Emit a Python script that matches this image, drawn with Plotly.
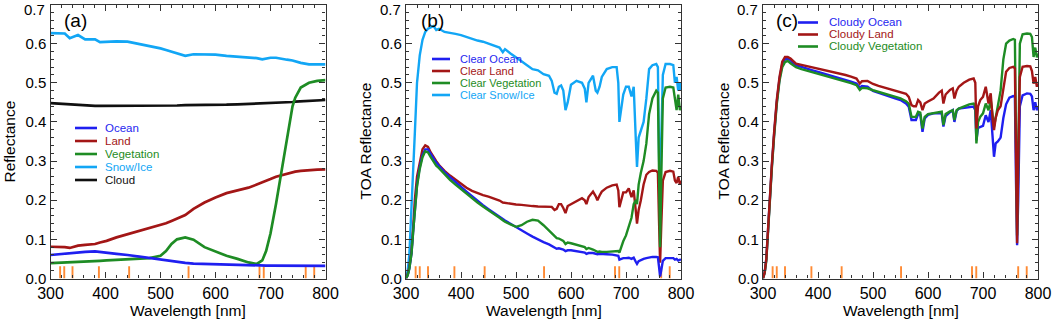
import plotly.graph_objects as go

W, H = 1052, 321

# ---------------- DATA ----------------
# EPIC channel wavelengths (orange marks)
epic_bands = [317.5, 325, 340, 388, 443, 551, 680, 687.75, 764, 779.5]

# axis ticks
x_ticks = [300, 400, 500, 600, 700, 800]
y_ticks = [0.0, 0.1, 0.2, 0.3, 0.4, 0.5, 0.6, 0.7]

# Panel (a): surface reflectance
wl_a = [300, 320, 326, 335, 350, 363, 381, 390, 402, 420, 440, 470, 480, 500, 510, 520,
        530, 545, 560, 580, 600, 620, 640, 660, 675, 685, 692, 700, 710, 720, 730, 740,
        745, 755, 770, 785, 800]
ocean_a = [0.060, 0.063, 0.064, 0.065, 0.067, 0.068, 0.069, 0.068, 0.066, 0.063, 0.060, 0.054,
           0.052, 0.048, 0.046, 0.044, 0.042, 0.040, 0.038, 0.037, 0.036, 0.035, 0.034, 0.034,
           0.033, 0.033, 0.033, 0.033, 0.033, 0.033, 0.033, 0.032, 0.032, 0.032, 0.032, 0.032, 0.032]
land_a = [0.081, 0.081, 0.080, 0.078, 0.084, 0.086, 0.088, 0.092, 0.096, 0.105, 0.113, 0.124,
          0.128, 0.136, 0.141, 0.147, 0.153, 0.162, 0.178, 0.194, 0.207, 0.218, 0.225, 0.232,
          0.240, 0.245, 0.248, 0.254, 0.260, 0.264, 0.268, 0.271, 0.273, 0.275, 0.277, 0.278, 0.279]
veg_a = [0.039, 0.040, 0.040, 0.041, 0.042, 0.043, 0.044, 0.045, 0.046, 0.047, 0.048, 0.050,
         0.052, 0.058, 0.070, 0.088, 0.100, 0.105, 0.099, 0.080, 0.068, 0.058, 0.050, 0.041,
         0.037, 0.046, 0.070, 0.115, 0.190, 0.270, 0.350, 0.440, 0.462, 0.488, 0.500, 0.505, 0.507]
snow_a = [0.627, 0.627, 0.626, 0.614, 0.622, 0.611, 0.611, 0.604, 0.605, 0.606, 0.605, 0.597,
          0.594, 0.588, 0.584, 0.580, 0.576, 0.569, 0.573, 0.573, 0.572, 0.569, 0.567, 0.565,
          0.563, 0.560, 0.562, 0.564, 0.564, 0.561, 0.559, 0.557, 0.555, 0.551, 0.547, 0.547, 0.547]
cloud_a = [0.448, 0.446, 0.445, 0.444, 0.443, 0.442, 0.441, 0.441, 0.441, 0.441, 0.441, 0.441,
           0.441, 0.442, 0.442, 0.442, 0.442, 0.443, 0.443, 0.443, 0.443, 0.444, 0.445, 0.446,
           0.447, 0.447, 0.448, 0.448, 0.449, 0.450, 0.451, 0.451, 0.452, 0.453, 0.454, 0.455, 0.456]

# Panels (b), (c): TOA reflectance on a common wavelength grid
wl_toa = [300, 303, 306, 310, 313, 316, 320, 325, 330, 335, 340, 345, 350, 355, 360, 370, 380,
          390, 400, 410, 420, 430, 440, 450, 460, 470, 476, 480, 490, 500, 510, 520, 530, 540,
          550, 560, 565, 570, 574, 578, 582, 586, 590, 594, 600, 610, 620, 625, 628, 632, 640,
          645, 648, 652, 656, 665, 675, 683, 686, 688, 691, 695, 700, 705, 710, 714, 718, 720,
          723, 727, 732, 737, 742, 748, 755, 758, 760, 762, 764, 767, 772, 780, 786, 789, 792,
          795, 798, 800]

clear_ocean = [0.0, 0.008, 0.025, 0.064, 0.12, 0.18, 0.24, 0.285, 0.315, 0.33, 0.33, 0.318, 0.305,
               0.296, 0.288, 0.272, 0.259, 0.246, 0.234, 0.222, 0.210, 0.198, 0.187, 0.177, 0.167,
               0.157, 0.152, 0.148, 0.140, 0.131, 0.123, 0.115, 0.107, 0.099, 0.093, 0.087, 0.083,
               0.078, 0.076, 0.077, 0.076, 0.074, 0.070, 0.072, 0.072, 0.070, 0.067, 0.066, 0.063,
               0.065, 0.065, 0.063, 0.062, 0.063, 0.063, 0.062, 0.061, 0.060, 0.058, 0.048, 0.050,
               0.052, 0.052, 0.053, 0.050, 0.053, 0.042, 0.037, 0.044, 0.047, 0.050, 0.052, 0.054,
               0.055, 0.055, 0.054, 0.030, 0.005, 0.020, 0.045, 0.052, 0.053, 0.052, 0.048, 0.050,
               0.046, 0.048, 0.047]
clear_land = [0.0, 0.010, 0.030, 0.070, 0.13, 0.20, 0.26, 0.30, 0.33, 0.34, 0.336, 0.322, 0.310,
              0.300, 0.290, 0.275, 0.263, 0.252, 0.241, 0.232, 0.224, 0.218, 0.213, 0.209, 0.204,
              0.199, 0.194, 0.193, 0.190, 0.189, 0.188, 0.186, 0.185, 0.184, 0.184, 0.184, 0.183,
              0.175, 0.178, 0.190, 0.190, 0.180, 0.167, 0.185, 0.190, 0.198, 0.205, 0.200, 0.190,
              0.208, 0.222, 0.210, 0.200, 0.212, 0.222, 0.232, 0.238, 0.240, 0.225, 0.182, 0.200,
              0.220, 0.220, 0.230, 0.208, 0.225, 0.170, 0.140, 0.175, 0.200, 0.240, 0.265, 0.272,
              0.276, 0.275, 0.270, 0.150, 0.040, 0.130, 0.250, 0.272, 0.275, 0.273, 0.250, 0.244,
              0.260, 0.240, 0.250]
clear_veg = [0.0, 0.008, 0.025, 0.064, 0.12, 0.18, 0.235, 0.28, 0.31, 0.325, 0.322, 0.310, 0.298,
             0.288, 0.282, 0.266, 0.252, 0.240, 0.228, 0.216, 0.204, 0.194, 0.184, 0.175, 0.165,
             0.155, 0.149, 0.145, 0.138, 0.132, 0.136, 0.145, 0.150, 0.148, 0.136, 0.122, 0.115,
             0.106, 0.103, 0.102, 0.100, 0.096, 0.088, 0.092, 0.090, 0.086, 0.082, 0.080, 0.075,
             0.078, 0.074, 0.070, 0.068, 0.069, 0.068, 0.068, 0.069, 0.070, 0.070, 0.066, 0.080,
             0.095, 0.110, 0.130, 0.155, 0.190, 0.200, 0.190, 0.240, 0.270, 0.300, 0.345, 0.420,
             0.460, 0.480, 0.475, 0.260, 0.080, 0.250, 0.460, 0.488, 0.490, 0.488, 0.460, 0.430,
             0.470, 0.430, 0.440]
clear_snow = [0.004, 0.020, 0.060, 0.20, 0.30, 0.37, 0.50, 0.57, 0.61, 0.63, 0.638, 0.642, 0.645,
              0.635, 0.638, 0.630, 0.628, 0.625, 0.622, 0.617, 0.612, 0.608, 0.605, 0.600, 0.595,
              0.590, 0.578, 0.586, 0.575, 0.566, 0.555, 0.545, 0.535, 0.532, 0.522, 0.518, 0.505,
              0.475, 0.472, 0.490, 0.493, 0.480, 0.430, 0.450, 0.495, 0.505, 0.500, 0.485, 0.450,
              0.500, 0.518, 0.480, 0.475, 0.490, 0.515, 0.535, 0.540, 0.540, 0.500, 0.400, 0.430,
              0.470, 0.490, 0.490, 0.465, 0.490, 0.350, 0.285, 0.360, 0.380, 0.400, 0.460, 0.535,
              0.545, 0.548, 0.540, 0.300, 0.120, 0.350, 0.520, 0.548, 0.548, 0.545, 0.500, 0.515,
              0.480, 0.500, 0.480]

cloudy_ocean = [0.0, 0.015, 0.05, 0.155, 0.22, 0.285, 0.365, 0.45, 0.51, 0.548, 0.56, 0.562, 0.558,
                0.550, 0.545, 0.540, 0.536, 0.532, 0.528, 0.524, 0.520, 0.516, 0.511, 0.507, 0.503,
                0.498, 0.488, 0.492, 0.490, 0.479, 0.474, 0.469, 0.465, 0.460, 0.456, 0.447, 0.439,
                0.405, 0.405, 0.405, 0.420, 0.418, 0.375, 0.409, 0.418, 0.422, 0.422, 0.422, 0.388,
                0.415, 0.425, 0.430, 0.400, 0.428, 0.434, 0.436, 0.438, 0.439, 0.430, 0.353, 0.385,
                0.388, 0.390, 0.417, 0.400, 0.430, 0.340, 0.311, 0.345, 0.350, 0.360, 0.410, 0.445,
                0.462, 0.466, 0.465, 0.250, 0.085, 0.200, 0.440, 0.468, 0.473, 0.472, 0.465, 0.430,
                0.450, 0.430, 0.439]
cloudy_land = [0.0, 0.015, 0.05, 0.158, 0.22, 0.29, 0.37, 0.456, 0.515, 0.554, 0.566, 0.566, 0.562,
               0.556, 0.549, 0.546, 0.543, 0.540, 0.537, 0.534, 0.530, 0.527, 0.523, 0.520, 0.516,
               0.511, 0.498, 0.504, 0.505, 0.497, 0.492, 0.488, 0.484, 0.480, 0.477, 0.472, 0.464,
               0.443, 0.440, 0.440, 0.456, 0.450, 0.430, 0.447, 0.452, 0.460, 0.475, 0.480, 0.447,
               0.470, 0.482, 0.486, 0.460, 0.480, 0.490, 0.500, 0.508, 0.511, 0.500, 0.383, 0.440,
               0.456, 0.464, 0.490, 0.447, 0.473, 0.400, 0.379, 0.410, 0.430, 0.440, 0.490, 0.528,
               0.538, 0.541, 0.537, 0.300, 0.090, 0.300, 0.515, 0.541, 0.543, 0.542, 0.530, 0.498,
               0.515, 0.490, 0.498]
cloudy_veg = [0.0, 0.014, 0.045, 0.15, 0.215, 0.28, 0.36, 0.445, 0.505, 0.54, 0.553, 0.556, 0.550,
              0.545, 0.540, 0.535, 0.531, 0.527, 0.524, 0.520, 0.516, 0.512, 0.507, 0.503, 0.499,
              0.494, 0.482, 0.487, 0.486, 0.481, 0.477, 0.473, 0.469, 0.465, 0.460, 0.453, 0.447,
              0.413, 0.413, 0.413, 0.426, 0.424, 0.383, 0.413, 0.420, 0.422, 0.425, 0.426, 0.392,
              0.420, 0.427, 0.430, 0.405, 0.430, 0.434, 0.440, 0.445, 0.447, 0.440, 0.345, 0.400,
              0.413, 0.422, 0.447, 0.430, 0.456, 0.400, 0.388, 0.410, 0.440, 0.480, 0.560, 0.600,
              0.608, 0.612, 0.610, 0.300, 0.110, 0.300, 0.600, 0.624, 0.626, 0.625, 0.617, 0.566,
              0.590, 0.565, 0.575]

# ---------------- STYLE ----------------
C_OCEAN = "#1f1ff0"
C_LAND = "#a31616"
C_VEG = "#1e8c24"
C_SNOW = "#12a6f5"
C_CLOUD = "#101010"
C_EPIC = "#ff8a33"
FONT = "Liberation Sans, Arial, sans-serif"

# pixel geometry
plot_top, plot_bot = 4.5, 278.5
panels_px = [(50.5, 325.5), (406.0, 681.0), (763.0, 1038.0)]


def px_x(x):
    return x / W


def px_y(y):
    return 1 - y / H


fig = go.Figure()


def add_line(i, x, y, color, width=2.7):
    sfx = "" if i == 0 else str(i + 1)
    fig.add_trace(go.Scatter(x=x, y=y, mode="lines", line=dict(color=color, width=width),
                             xaxis="x" + sfx, yaxis="y" + sfx, showlegend=False,
                             hoverinfo="skip"))


def add_epic(i):
    xs, ys = [], []
    for b in epic_bands:
        xs += [b, b, None]
        ys += [0.0, 0.031, None]
    add_line(i, xs, ys, C_EPIC, width=1.9)


# panel a
add_epic(0)
add_line(0, wl_a, cloud_a, C_CLOUD)
add_line(0, wl_a, snow_a, C_SNOW)
add_line(0, wl_a, land_a, C_LAND)
add_line(0, wl_a, veg_a, C_VEG)
add_line(0, wl_a, ocean_a, C_OCEAN)

# panel b
add_epic(1)
add_line(1, wl_toa, clear_snow, C_SNOW, 2.4)
add_line(1, wl_toa, clear_land, C_LAND, 2.4)
add_line(1, wl_toa, clear_ocean, C_OCEAN, 2.4)
add_line(1, wl_toa, clear_veg, C_VEG, 2.4)

# panel c
add_epic(2)
add_line(2, wl_toa, cloudy_ocean, C_OCEAN, 2.4)
add_line(2, wl_toa, cloudy_veg, C_VEG, 2.4)
add_line(2, wl_toa, cloudy_land, C_LAND, 2.4)

axis_common = dict(showgrid=False, zeroline=False, showline=True, linecolor="#333",
                   linewidth=1.3, mirror="allticks", ticks="inside", tickcolor="#333",
                   tickwidth=1.2, automargin=False, ticklabeloverflow="allow")
layout = dict(template="none", width=W, height=H, margin=dict(l=0, r=0, t=0, b=0, pad=0),
              paper_bgcolor="white", plot_bgcolor="white",
              font=dict(family=FONT, color="black"), showlegend=False)
ydom = [px_y(plot_bot), px_y(plot_top)]
# top label (0.7) is drawn as an annotation so it is not clipped at the page edge
y_ticktext = ["%.1f" % v for v in y_ticks[:-1]] + [""]
for i, (x0, x1) in enumerate(panels_px):
    sfx = "" if i == 0 else str(i + 1)
    layout["xaxis" + sfx] = dict(axis_common, domain=[px_x(x0), px_x(x1)], range=[299.99, 800.01],
                                 tickvals=x_ticks, ticklen=6,
                                 minor=dict(ticks="inside", ticklen=3, dtick=20, tickcolor="#333"),
                                 tickfont=dict(size=16, family=FONT), anchor="y" + sfx)
    layout["yaxis" + sfx] = dict(axis_common, domain=ydom, range=[-0.0001, 0.7001],
                                 tickvals=y_ticks, ticktext=y_ticktext, ticklen=6,
                                 minor=dict(ticks="inside", ticklen=3, dtick=0.02, tickcolor="#333"),
                                 tickfont=dict(size=15, family=FONT), anchor="x" + sfx)
fig.update_layout(**layout)

annotations = []
shapes = []

# axis titles and top tick label
for (x0, x1), ytxt, ytx in zip(panels_px, ["Reflectance", "TOA Reflectance", "TOA Reflectance"],
                               [9, 365, 723]):
    annotations.append(dict(text="Wavelength [nm]", x=px_x((x0 + x1) / 2), y=px_y(310),
                            xref="paper", yref="paper", showarrow=False,
                            font=dict(size=15.5, family=FONT), xanchor="center", yanchor="middle"))
    annotations.append(dict(text=ytxt, x=px_x(ytx), y=px_y((plot_top + plot_bot) / 2),
                            xref="paper", yref="paper", showarrow=False, textangle=-90,
                            font=dict(size=15.5, family=FONT), xanchor="center", yanchor="middle"))
    annotations.append(dict(text="%.1f" % y_ticks[-1], x=px_x(x0 - 3.5), y=px_y(9.5),
                            xref="paper", yref="paper", showarrow=False,
                            font=dict(size=15, family=FONT), xanchor="right", yanchor="middle"))

# panel labels
for lab, cx in zip(["(a)", "(b)", "(c)"], [76, 432, 787]):
    annotations.append(dict(text=lab, x=px_x(cx), y=px_y(20), xref="paper", yref="paper",
                            showarrow=False, font=dict(size=19, family=FONT),
                            xanchor="center", yanchor="middle"))


def legend(items, lx0, lx1, tx, rows, size):
    for (name, col), ry in zip(items, rows):
        shapes.append(dict(type="line", xref="paper", yref="paper", x0=px_x(lx0), x1=px_x(lx1),
                           y0=px_y(ry), y1=px_y(ry), line=dict(color=col, width=2.6)))
        annotations.append(dict(text=name, x=px_x(tx), y=px_y(ry), xref="paper", yref="paper",
                                showarrow=False, font=dict(size=size, color=col, family=FONT),
                                xanchor="left", yanchor="middle"))


legend([("Ocean", C_OCEAN), ("Land", C_LAND), ("Vegetation", C_VEG), ("Snow/Ice", C_SNOW),
        ("Cloud", C_CLOUD)], 75, 97, 103, [128, 141, 154, 167, 180], 11.5)
legend([("Clear Ocean", C_OCEAN), ("Clear Land", C_LAND), ("Clear Vegetation", C_VEG),
        ("Clear Snow/Ice", C_SNOW)], 432, 450, 458, [59, 71, 83, 95], 11)
legend([("Cloudy Ocean", C_OCEAN), ("Cloudy Land", C_LAND), ("Cloudy Vegetation", C_VEG)],
       798, 818, 826.5, [22.5, 34.5, 46.5], 11.5)

fig.update_layout(annotations=annotations, shapes=shapes)
fig.write_html("out.html", config={"displayModeBar": False},
               post_script="document.body.style.margin='0';document.body.style.padding='0';"
                           "document.body.style.overflow='hidden';")
